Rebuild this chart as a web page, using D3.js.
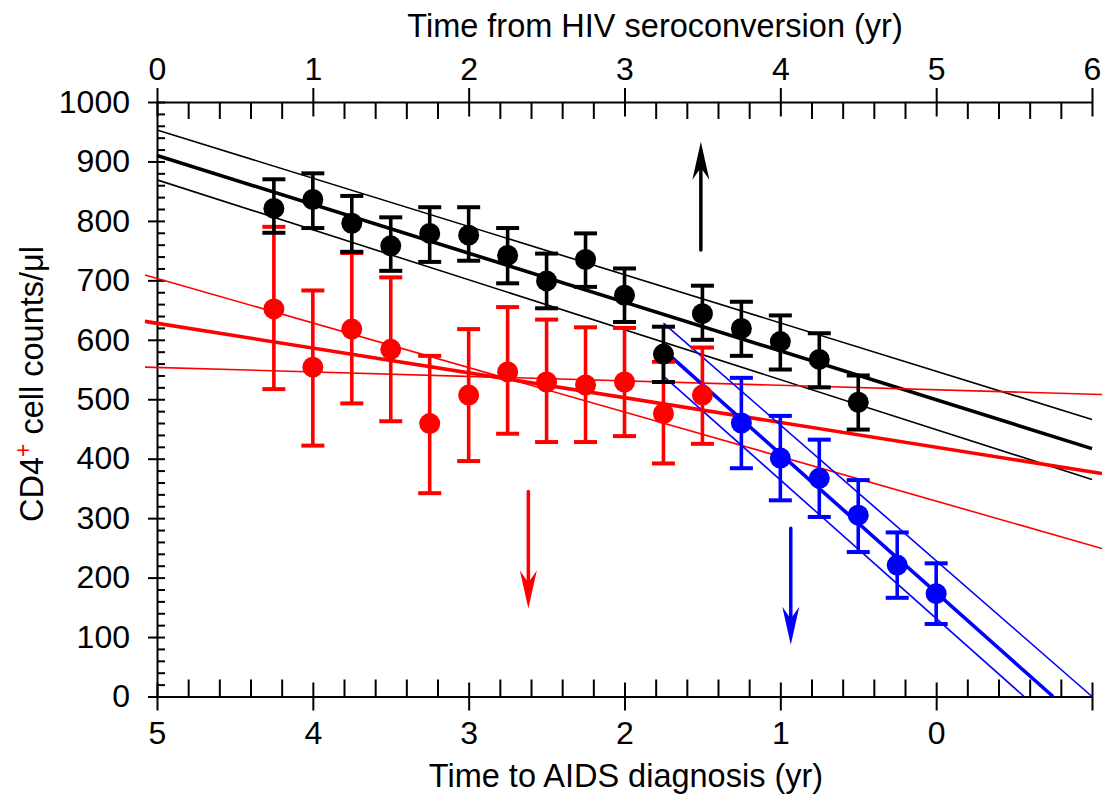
<!DOCTYPE html>
<html>
<head>
<meta charset="utf-8">
<script src="https://cdn.jsdelivr.net/npm/d3@7"></script>
<style>
  html, body { margin: 0; padding: 0; background: #fff; }
  svg { display: block; font-family: "Liberation Sans", Arial, sans-serif; }
</style>
</head>
<body>
<svg id="chart" width="1102" height="794"></svg>
<script>
// ---- Data ----
// Seroconverters (black), years from HIV seroconversion
const blackX  = [0.75, 1, 1.25, 1.5, 1.75, 2, 2.25, 2.5, 2.75, 3, 3.25, 3.5, 3.75, 4, 4.25, 4.5];
const blackY  = [821, 836, 796, 758, 779, 776, 742, 699, 735, 675, 576, 644, 619, 597, 567, 495];
const blackHi = [870, 880, 842, 806, 823, 823, 788, 745, 779, 720, 622, 691, 664, 641, 611, 540];
const blackLo = [780, 788, 748, 716, 731, 733, 695, 653, 689, 630, 529, 600, 573, 550, 520, 449];

// Red series, years from HIV seroconversion
const redX  = [0.75, 1, 1.25, 1.5, 1.75, 2, 2.25, 2.5, 2.75, 3, 3.25, 3.5];
const redY  = [652, 554, 618, 584, 459, 507, 546, 529, 524, 529, 476, 507];
const redHi = [790, 683, 746, 705, 573, 618, 655, 634, 621, 620, 563, 587];
const redLo = [517, 422, 493, 463, 342, 396, 442, 428, 428, 438, 392, 425];

// Blue series, years to AIDS diagnosis
const blueX  = [1.25, 1, 0.75, 0.5, 0.25, 0];
const blueY  = [460, 401, 367, 305, 221, 173];
const blueHi = [536, 472, 432, 364, 276, 224];
const blueLo = [384, 330, 302, 243, 166, 122];

// Regression lines (fit, upper, lower) as [x0, x1] / [y0, y1]
const blackFitX = [0, 6];
const blackFit  = [910, 417];
const blackUp   = [953, 466];
const blackLow  = [869, 365];

const redFitX = [-0.077, 6.064];
const redFit  = [631, 375];
const redUp   = [709, 249];
const redLow  = [554, 508];

const blueFitX  = [1.75, -0.75];
const blueFit   = [583, 0];
const blueUpX   = [1.75, -1.0];
const blueUp    = [628, 0];
const blueLowX  = [1.75, -0.564];
const blueLow   = [539, 0];

// Arrows: x in years from seroconversion, from value -> to value
const arrowX    = [3.49, 2.383, 4.067];
const arrowFrom = [751, 345, 283];
const arrowTo   = [933, 148, 87];
const arrowCol  = ["#000000", "#ff0000", "#0000ff"];

// Tick labels
const topTicks    = [0, 1, 2, 3, 4, 5, 6];
const bottomTicks = [5, 4, 3, 2, 1, 0, -1];
const yTicks      = [0, 100, 200, 300, 400, 500, 600, 700, 800, 900, 1000];

// ---- Layout ----
const svg = d3.select("#chart");
const L = 157, R = 1092, T = 102, B = 696.5;
const xTop = d3.scaleLinear().domain([0, 6]).range([L, R]);
const xBot = d3.scaleLinear().domain([5, -1]).range([L, R]);
const y = d3.scaleLinear().domain([0, 1000]).range([B, T]);

const FS = 32;

// ---- Axes ----
// Top axis
const minorTop = d3.range(0, 6.001, 0.2).filter(v => Math.abs(v - Math.round(v)) > 1e-6);
const gTopMinor = svg.append("g").attr("transform", `translate(0,${T})`)
  .call(d3.axisBottom(xTop).tickValues(minorTop).tickSize(17).tickFormat(""));
gTopMinor.select(".domain").remove();
const gTop = svg.append("g").attr("transform", `translate(0,${T})`)
  .call(d3.axisTop(xTop).tickValues(topTicks).tickSizeOuter(0).tickFormat(d3.format("d")));
gTop.selectAll(".tick line").attr("y1", -14).attr("y2", 14.5);
gTop.selectAll(".tick text").attr("y", -22).attr("dy", 0).style("font-size", FS + "px");

// Bottom axis
const minorBot = d3.range(-1, 5.001, 0.2).filter(v => Math.abs(v - Math.round(v)) > 1e-6);
const gBotMinor = svg.append("g").attr("transform", `translate(0,${B})`)
  .call(d3.axisTop(xBot).tickValues(minorBot).tickSize(17).tickFormat(""));
gBotMinor.select(".domain").remove();
const gBot = svg.append("g").attr("transform", `translate(0,${B})`)
  .call(d3.axisBottom(xBot).tickValues(bottomTicks).tickSizeOuter(0)
    .tickFormat(d => d < 0 ? "" : d3.format("d")(d)));
gBot.selectAll(".tick line").attr("y1", -14).attr("y2", 14);
gBot.selectAll(".tick text").attr("y", 47).attr("dy", 0).style("font-size", FS + "px");

// Left axis
const minorY = d3.range(0, 1000.1, 20).filter(v => v % 100 !== 0);
const gYMinor = svg.append("g").attr("transform", `translate(${L},0)`)
  .call(d3.axisRight(y).tickValues(minorY).tickSize(8).tickFormat(""));
gYMinor.select(".domain").remove();
const gY = svg.append("g").attr("transform", `translate(${L},0)`)
  .call(d3.axisLeft(y).tickValues(yTicks).tickSizeOuter(0).tickFormat(d3.format("d")));
gY.selectAll(".tick line").attr("x1", -9).attr("x2", 8);
gY.selectAll(".tick text").attr("x", -27).style("font-size", FS + "px");

svg.selectAll(".domain, .tick line").attr("stroke", "#000").attr("stroke-width", 2);
svg.selectAll(".tick text").attr("fill", "#000").style("font-family", '"Liberation Sans", Arial, sans-serif');

// ---- Titles ----
svg.append("text").attr("x", 655).attr("y", 37).attr("text-anchor", "middle")
  .style("font-size", "32.5px").text("Time from HIV seroconversion (yr)");
svg.append("text").attr("x", 626).attr("y", 787).attr("text-anchor", "middle")
  .style("font-size", "32.5px").text("Time to AIDS diagnosis (yr)");
const yt = svg.append("text").attr("transform", "translate(43,384) rotate(-90)")
  .attr("text-anchor", "middle").style("font-size", "32.5px");
yt.append("tspan").text("CD4");
yt.append("tspan").attr("fill", "#ff0000").attr("dy", -12).style("font-size", "23px").text("+");
yt.append("tspan").attr("dy", 12).text(" cell counts/\u03bcl");

// ---- Regression lines ----
const lines = [
  {xs: blackFitX, ys: blackUp,  sx: xTop, c: "#000", w: 1.6},
  {xs: blackFitX, ys: blackLow, sx: xTop, c: "#000", w: 1.6},
  {xs: blackFitX, ys: blackFit, sx: xTop, c: "#000", w: 3.6},
  {xs: redFitX,   ys: redUp,    sx: xTop, c: "#ff0000", w: 1.6},
  {xs: redFitX,   ys: redLow,   sx: xTop, c: "#ff0000", w: 1.6},
  {xs: redFitX,   ys: redFit,   sx: xTop, c: "#ff0000", w: 3.6},
  {xs: blueUpX,   ys: blueUp,   sx: xBot, c: "#0000ff", w: 1.6},
  {xs: blueLowX,  ys: blueLow,  sx: xBot, c: "#0000ff", w: 1.6},
  {xs: blueFitX,  ys: blueFit,  sx: xBot, c: "#0000ff", w: 3.6}
];
lines.forEach(l => {
  const pts = l.xs.map((xv, i) => [l.sx(xv), y(l.ys[i])]);
  svg.append("path").attr("d", d3.line()(pts))
    .attr("fill", "none").attr("stroke", l.c).attr("stroke-width", l.w);
});

// ---- Error bars & points ----
function series(xs, ys, his, los, sx, color) {
  const g = svg.append("g");
  const cw = 11.5;
  xs.forEach((xv, i) => {
    const px = sx(xv);
    g.append("line").attr("x1", px).attr("x2", px).attr("y1", y(his[i])).attr("y2", y(los[i]))
      .attr("stroke", color).attr("stroke-width", 3.6);
    [his[i], los[i]].forEach(v => {
      g.append("line").attr("x1", px - cw).attr("x2", px + cw).attr("y1", y(v)).attr("y2", y(v))
        .attr("stroke", color).attr("stroke-width", 4);
    });
    g.append("circle").attr("cx", px).attr("cy", y(ys[i])).attr("r", 10.5).attr("fill", color);
  });
}
series(redX, redY, redHi, redLo, xTop, "#ff0000");
series(blueX, blueY, blueHi, blueLo, xBot, "#0000ff");
series(blackX, blackY, blackHi, blackLo, xTop, "#000000");

// ---- Arrows ----
arrowX.forEach((xv, i) => {
  const px = xTop(xv);
  const y0 = y(arrowFrom[i]), y1 = y(arrowTo[i]);
  const dir = y1 < y0 ? -1 : 1;  // -1 up, 1 down
  const headL = 38, notch = 26, hw = 8.5;
  svg.append("line").attr("x1", px).attr("x2", px).attr("y1", y0).attr("y2", y1 - dir * notch)
    .attr("stroke", arrowCol[i]).attr("stroke-width", 3.5).attr("stroke-linecap", "round");
  const p = d3.path();
  p.moveTo(px, y1);
  p.lineTo(px + hw, y1 - dir * headL);
  p.lineTo(px, y1 - dir * notch);
  p.lineTo(px - hw, y1 - dir * headL);
  p.closePath();
  svg.append("path").attr("d", p.toString()).attr("fill", arrowCol[i]);
});
</script>
</body>
</html>
